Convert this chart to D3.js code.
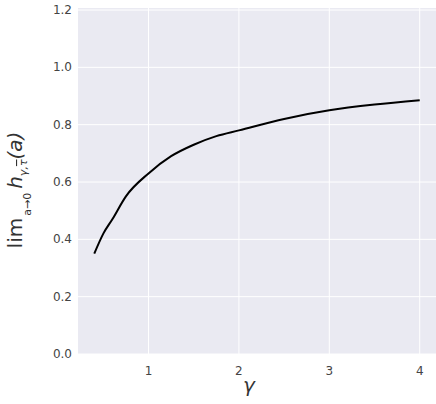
<!DOCTYPE html>
<html><head><meta charset="utf-8">
<script src="https://cdn.jsdelivr.net/npm/d3@7"></script>
<style>body{margin:0;background:#fff}</style>
</head><body><svg id="c" width="436" height="404"></svg>
<script>
var gammaVals = [0.4, 0.5, 0.6, 0.75, 1.0, 1.25, 1.5, 1.75, 2.0, 2.5, 3.0, 3.5, 4.0];
var limVals   = [0.35, 0.42, 0.47, 0.55, 0.63, 0.69, 0.73, 0.76, 0.78, 0.82, 0.85, 0.87, 0.885];
var xTicks = [1, 2, 3, 4];
var yTicks = [0, 0.2, 0.4, 0.6, 0.8, 1.0, 1.2];

var svg = d3.select('#c');
var pLeft = 78, pRight = 436, pTop = 10, pBottom = 354;
var x = d3.scaleLinear().domain([0.22, 4.18]).range([pLeft, pRight]);
var y = d3.scaleLinear().domain([0, 1.2]).range([pBottom, pTop]);

svg.append('rect').attr('x', pLeft).attr('y', pTop - 2)
  .attr('width', pRight - pLeft).attr('height', pBottom - pTop + 2).attr('fill', '#eaeaf2');

svg.append('g').selectAll('line').data(xTicks).join('line')
  .attr('x1', d => x(d)).attr('x2', d => x(d)).attr('y1', pTop - 2).attr('y2', pBottom)
  .attr('stroke', '#fff').attr('stroke-width', 1);
svg.append('g').selectAll('line').data(yTicks).join('line')
  .attr('x1', pLeft).attr('x2', pRight).attr('y1', d => y(d)).attr('y2', d => y(d))
  .attr('stroke', '#fff').attr('stroke-width', 1);

var font = 'DejaVu Sans, sans-serif';
svg.append('g').selectAll('text').data(xTicks).join('text')
  .attr('x', d => x(d)).attr('y', pBottom + 21).attr('text-anchor', 'middle')
  .attr('font-family', font).attr('font-size', 12).attr('fill', '#444').text(d => d);
svg.append('g').selectAll('text').data(yTicks).join('text')
  .attr('x', pLeft - 6).attr('y', d => y(d) + 4).attr('text-anchor', 'end')
  .attr('font-family', font).attr('font-size', 12).attr('fill', '#444').text(d => d.toFixed(1));

var line = d3.line().x((d, i) => x(gammaVals[i])).y(d => y(d)).curve(d3.curveMonotoneX);
svg.append('path').datum(limVals).attr('d', line)
  .attr('fill', 'none').attr('stroke', '#000').attr('stroke-width', 2);

svg.append('text').attr('x', (pLeft + pRight) / 2 - 8).attr('y', 392).attr('text-anchor', 'middle')
  .attr('font-family', font).attr('font-style', 'italic').attr('font-size', 20).attr('fill', '#333').text('γ');

// y label: lim_{a→0} h_{γ,τ}(a)
var yl = svg.append('text').attr('transform', 'translate(22,190) rotate(-90)')
  .attr('text-anchor', 'middle').attr('font-family', font).attr('fill', '#333');
yl.append('tspan').attr('font-size', 20).text('lim');
yl.append('tspan').attr('font-size', 11).attr('dy', 9).attr('dx', 2).text('a→0');
yl.append('tspan').attr('font-size', 20).attr('font-style', 'italic').attr('dy', -9).attr('dx', 4).text('h');
yl.append('tspan').attr('font-size', 11).attr('font-style', 'italic').attr('dy', 5).text('γ,');
yl.append('tspan').attr('font-size', 11).attr('font-style', 'italic').attr('text-decoration', 'overline').text('τ');
yl.append('tspan').attr('font-size', 20).attr('font-style', 'italic').attr('dy', -5).text('(a)');
</script></body></html>
